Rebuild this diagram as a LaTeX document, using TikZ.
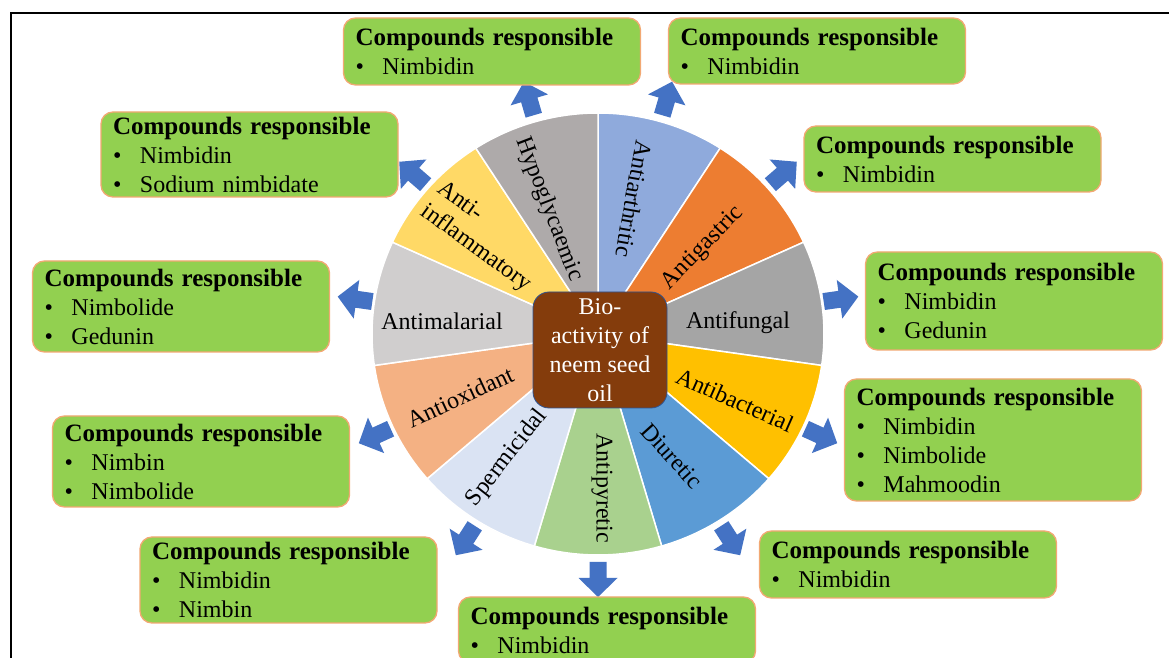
\documentclass[tikz,border=0pt]{standalone}
\usepackage{fontspec}
\setmainfont{Liberation Serif}
\definecolor{cHypo}{HTML}{AEAAAA}
\definecolor{cArth}{HTML}{8FAADC}
\definecolor{cGast}{HTML}{ED7D31}
\definecolor{cFung}{HTML}{A5A5A5}
\definecolor{cBact}{HTML}{FFC000}
\definecolor{cDiur}{HTML}{5B9BD5}
\definecolor{cPyre}{HTML}{A9D18E}
\definecolor{cSperm}{HTML}{DAE3F3}
\definecolor{cOxid}{HTML}{F4B183}
\definecolor{cMala}{HTML}{D0CECE}
\definecolor{cInfl}{HTML}{FFD966}
\definecolor{coreFill}{HTML}{843C0C}
\definecolor{coreLine}{HTML}{2F528F}
\definecolor{boxFill}{HTML}{92D050}
\definecolor{boxLine}{HTML}{F2A873}
\definecolor{arrowFill}{HTML}{4472C4}
\newcommand{\cptitle}{{\fontsize{25}{29}\selectfont\bfseries Compounds responsible}}
\newcommand{\cpitem}[1]{\makebox[27pt][l]{\textbullet}#1}
\tikzset{
  cbox/.style={draw=boxLine, line width=1.3pt, fill=boxFill, rounded corners=12pt,
    minimum width=297pt, text width=273pt, inner xsep=12pt, inner ysep=0pt,
    align=left, font=\fontsize{24}{29}\selectfont},
  lbl/.style={font=\fontsize{24}{28}\selectfont, inner sep=0pt},
  core/.style={draw=coreLine, line width=0.8pt, fill=coreFill, rounded corners=16pt,
    minimum width=134pt, minimum height=116pt, text=white, align=center,
    font=\fontsize{24}{29}\selectfont, inner sep=0pt},
  blockarrow/.pic={\fill[arrowFill] (0,-8.5) -- (16,-8.5) -- (16,-19.5) -- (35,0)
    -- (16,19.5) -- (16,8.5) -- (0,8.5) -- cycle;}
}
\begin{document}
\begin{tikzpicture}[x=1pt, y=1pt]
\useasboundingbox (0,0) rectangle (1169,658);
\clip (0,0) rectangle (1169,658);
\fill[white] (0,0) rectangle (1169,658);
% frame
\draw[line width=2pt] (11.2,-2) -- (11.2,645) -- (1171,645);

% wheel of activities
\coordinate (C) at (598,324);
\foreach \k/\col in {0/cArth,1/cGast,2/cFung,3/cBact,4/cDiur,5/cPyre,6/cSperm,7/cOxid,8/cMala,9/cInfl,10/cHypo}{
  \pgfmathsetmacro\a{90-\k*360/11}
  \pgfmathsetmacro\b{90-(\k+1)*360/11}
  \filldraw[fill=\col, draw=white, line width=1.5pt]
    (C) -- ++(\a:226pt and 221pt) arc[start angle=\a, end angle=\b, x radius=226pt, y radius=221pt] -- cycle;
}
% outward arrows
\foreach \k in {0,...,10}{
  \pgfmathsetmacro\m{90-(\k+0.5)*360/11}
  \pic[rotate=\m] at ([shift={(\m:228pt)}]C) {blockarrow};
}

% wedge labels
\node[lbl, rotate=-69] (hypo) at (549,449) {Hypoglycaemic};
\node[lbl, rotate=-100] (arth) at (634,459) {Antiarthritic};
\node[lbl, rotate=46] (gast) at (703,410) {Antigastric};
\node[lbl] (fung) at (738,335) {Antifungal};
\node[lbl, rotate=-24] (bact) at (735,258) {Antibacterial};
\node[lbl, rotate=-48] (diur) at (672,202) {Diuretic};
\node[lbl, rotate=-90] (pyre) at (602,170) {Antipyretic};
\node[lbl, rotate=52] (sperm) at (507,200) {Spermicidal};
\node[lbl, rotate=25] (oxid) at (460,261) {Antioxidant};
\node[lbl] (mala) at (442,337) {Antimalarial};
\node[lbl, rotate=-36, align=left] (infl) at (484,421) {Anti-\\inflammatory};

% centre
\node[core] (core) at (600,308) {Bio-\\activity of\\neem seed\\oil};

% compound boxes
\node[cbox, minimum height=67pt] (b1) at (492,606.5) {\cptitle\\\cpitem{Nimbidin}};
\node[cbox, minimum height=66pt] (b2) at (817,607) {\cptitle\\\cpitem{Nimbidin}};
\node[cbox, minimum height=66pt] (b3) at (952.5,499) {\cptitle\\\cpitem{Nimbidin}};
\node[cbox, minimum height=98pt] (b4) at (1014,357) {\cptitle\\\cpitem{Nimbidin}\\\cpitem{Gedunin}};
\node[cbox, minimum height=122pt] (b5) at (993,218) {\cptitle\\\cpitem{Nimbidin}\\\cpitem{Nimbolide}\\\cpitem{Mahmoodin}};
\node[cbox, minimum height=67pt] (b6) at (908,93.5) {\cptitle\\\cpitem{Nimbidin}};
\node[cbox, minimum height=66pt] (b7) at (607,28) {\cptitle\\\cpitem{Nimbidin}};
\node[cbox, minimum height=86pt] (b8) at (288.5,78) {\cptitle\\\cpitem{Nimbidin}\\\cpitem{Nimbin}};
\node[cbox, minimum height=91pt] (b9) at (201,196.5) {\cptitle\\\cpitem{Nimbin}\\\cpitem{Nimbolide}};
\node[cbox, minimum height=91pt] (b10) at (181,351.5) {\cptitle\\\cpitem{Nimbolide}\\\cpitem{Gedunin}};
\node[cbox, minimum height=85pt] (b11) at (249.5,503.5) {\cptitle\\\cpitem{Nimbidin}\\\cpitem{Sodium nimbidate}};
\end{tikzpicture}
\end{document}
